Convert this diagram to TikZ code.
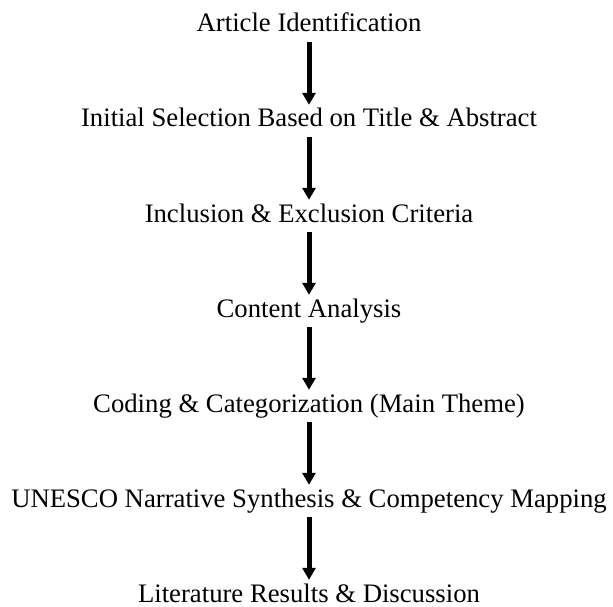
\documentclass[tikz,border=0pt]{standalone}
\usepackage{fontspec}
\setmainfont{Liberation Serif}
\usepackage{tikz}
\usetikzlibrary{arrows.meta, positioning}
\tikzstyle{stage} = [rectangle, inner xsep = 3, inner ysep = 0, text height = 20,
  text depth = 3, font = \fontsize{26.7}{32}\selectfont, text centered]
\tikzstyle{flow} = [
  -{Triangle[width = 13, length = 12]},
  line width = 5, draw = black,
  shorten < = 7, shorten > = 2
]

\begin{document}
\begin{tikzpicture}[node distance = 0]
    \useasboundingbox (0, 0) rectangle (613pt, -607pt);
    \node [stage] (art-id) at (309pt, -23.5pt) {Article Identification};
    \node [stage, below of = art-id, yshift = -95] (init-sel) {Initial Selection Based on Title \& Abstract};
    \node [stage, below of = init-sel, yshift = -95] (incl) {Inclusion \& Exclusion Criteria};
    \node [stage, below of = incl, yshift = -95] (content) {Content Analysis};
    \node [stage, below of = content, yshift = -95] (coding) {Coding \& Categorization (Main Theme)};
    \node [stage, below of = coding, yshift = -95] (unesco) {UNESCO Narrative Synthesis \& Competency Mapping};
    \node [stage, below of = unesco, yshift = -95] (lit) {Literature Results \& Discussion};

    \draw [flow] (art-id) -- (init-sel);
    \draw [flow] (init-sel) -- (incl);
    \draw [flow] (incl) -- (content);
    \draw [flow] (content) -- (coding);
    \draw [flow] (coding) -- (unesco);
    \draw [flow] (unesco) -- (lit);
  \end{tikzpicture}
\end{document}
